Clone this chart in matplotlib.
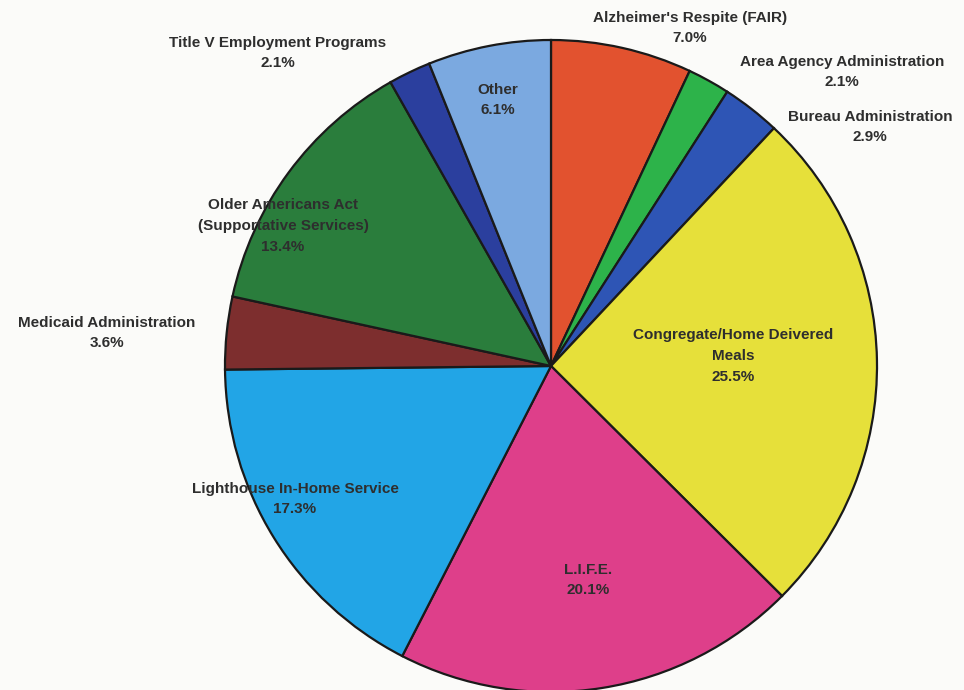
import matplotlib.pyplot as plt

categories = ["Alzheimer's Respite (FAIR)", "Area Agency Administration", "Bureau Administration",
              "Congregate/Home Deivered\nMeals", "L.I.F.E.", "Lighthouse In-Home Service",
              "Medicaid Administration", "Older Americans Act\n(Supportative Services)",
              "Title V Employment Programs", "Other"]
values = [7.0, 2.1, 2.9, 25.5, 20.1, 17.3, 3.6, 13.4, 2.1, 6.1]

colors = ["#E2522F", "#2DB34A", "#2E55B5", "#E6E03A", "#DE3F8A", "#22A5E6",
          "#7D2E2E", "#2A7D3C", "#2B3F9E", "#7BA9E0"]

# label layout (pixel coords, centre of text block)
label_pos = [(690, 28), (842, 72), (870, 127), (733, 356), (588, 580), (295, 499),
             (107, 333), (283, 226), (278, 53), (498, 100)]

W, H = 964, 690
fig = plt.figure(figsize=(W / 100, H / 100), dpi=100)
fig.patch.set_facecolor("#FBFBF9")
ax = fig.add_axes([0, 0, 1, 1])

cx, cy, r = 551, 366, 326
# y axis is inverted (pixel coords), so startangle -90 = 12 o'clock, counterclock -> clockwise on screen
wedges, _ = ax.pie(values, colors=colors, startangle=-90, counterclock=True,
                   center=(cx, cy), radius=r, frame=True,
                   wedgeprops=dict(edgecolor="#1a1a1a", linewidth=1.6))
ax.set_xlim(0, W)
ax.set_ylim(H, 0)
ax.set_aspect("equal")
ax.axis("off")

for name, v, (x, y) in zip(categories, values, label_pos):
    ax.text(x, y, f"{name}\n{v:.1f}%", ha="center", va="center", fontsize=11,
            fontweight="bold", color="#2E2E2E", family="Liberation Sans",
            linespacing=1.6)

fig.savefig("out.png", dpi=100, facecolor=fig.get_facecolor())
